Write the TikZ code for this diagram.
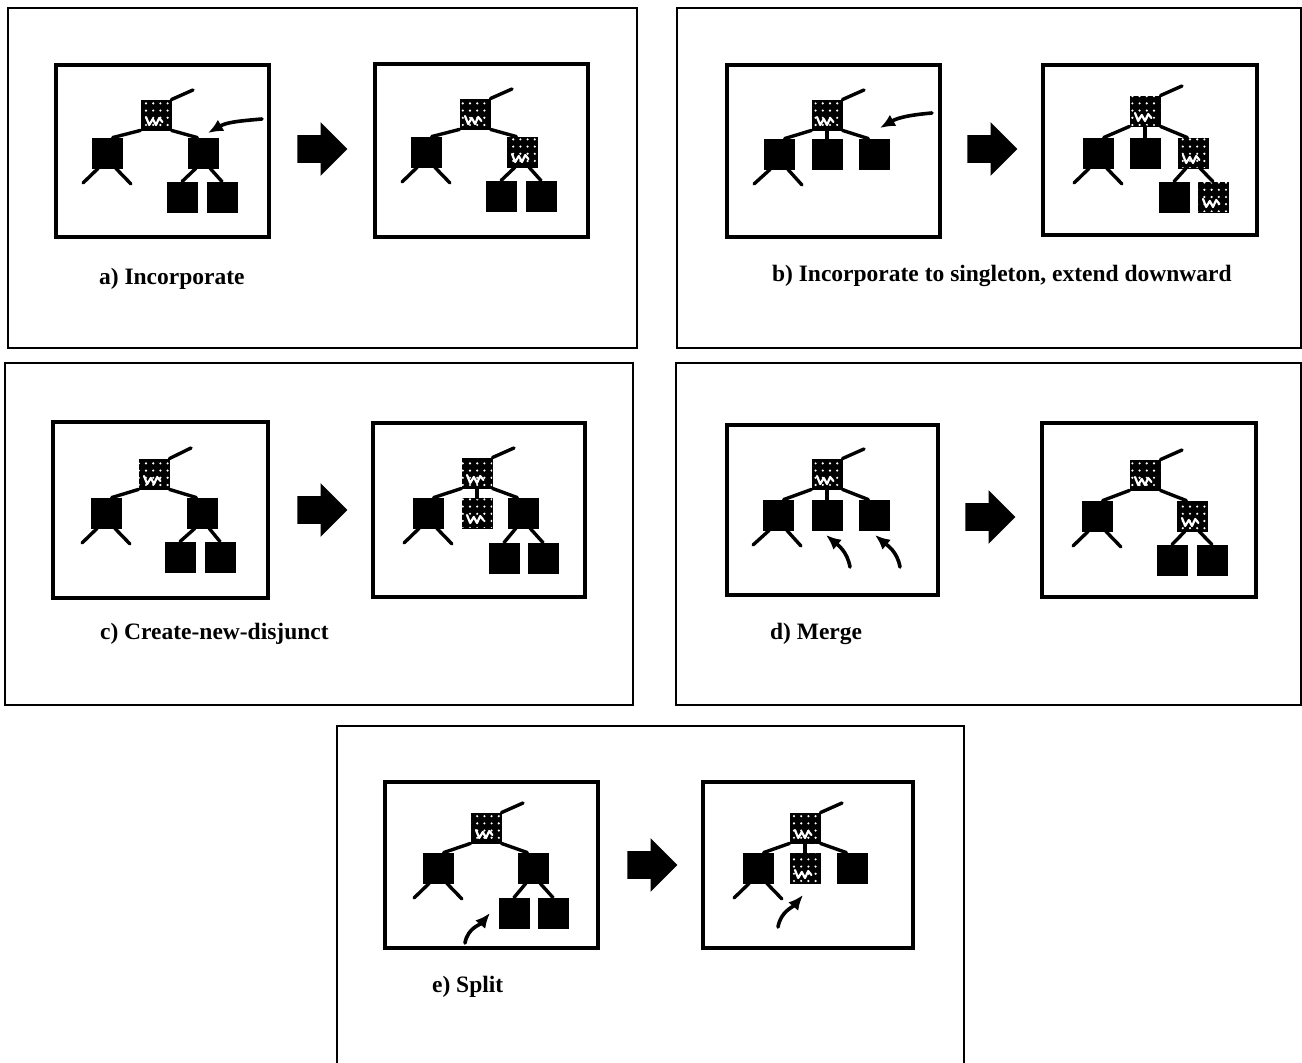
\documentclass[tikz,border=0pt]{standalone}
\usepackage{fontspec}
\setmainfont{Liberation Serif}
\usetikzlibrary{shapes.arrows, patterns.meta, arrows.meta}
\begin{document}
\begin{tikzpicture}[x=0.5pt, y=-0.5pt]

      \tikzset{leaf/.style={draw, fill=black, inner sep=0pt, minimum size=15pt},
               mixed/.style={leaf, postaction={pattern={Dots[distance=3.6pt, radius=0.6pt, xshift=1pt, yshift=1pt]}, pattern color=white},
                 path picture={\draw[white, line width=1.1pt, line join=round, line cap=round]
                   ([shift={(-5pt,-1pt)}]path picture bounding box.center) -- ++(1.6pt,-4pt) -- ++(1.8pt,3pt)
                   -- ++(1.6pt,-3pt) -- ++(1.6pt,3.5pt) -- ++(1.6pt,-2pt);}},
               branch/.style={line width=1.7pt, line cap=round},
               frame/.style={draw, line width=1.8pt},
               panel/.style={draw, line width=1pt},
               pointer/.style={->, >={Latex[length=7.5pt, width=6.5pt]}, line width=1.8pt, line cap=round},
               bigarrow/.style={single arrow, fill=black, inner sep=0pt, inner ysep=6.75pt, minimum height=25pt,
                 single arrow head extend=6.5pt, single arrow head indent=0pt, anchor=tail},
               caption/.style={anchor=base west, font=\bfseries\fontsize{11.75}{14}\selectfont}}
      \useasboundingbox (0,0) rectangle (1302,1063);

%% Panels
      \draw[panel] (8,8) rectangle (637,348);
      \draw[panel] (677,8) rectangle (1301,348);
      \draw[panel] (5,363) rectangle (633,705);
      \draw[panel] (676,363) rectangle (1301,705);
      \draw[panel] (337,726) rectangle (964,1070);

%% a) Incorporate
      \begin{scope}[shift={(56,65)}, name prefix=al-]
        \draw[frame] (0,0) rectangle (213,172);
        \node[mixed] (root) at (100,50) {};
        \node[leaf] (lc) at (51,88) {};
        \node[leaf] (rc) at (147,88) {};
        \node[leaf] (g1) at (126,132) {};
        \node[leaf] (g2) at (166,132) {};
        \coordinate (stem) at (137,25);
        \coordinate (leg1) at (27,118);
        \coordinate (leg2) at (75,119);
        \coordinate (from) at (206,54);
        \coordinate (to) at (152,68);
        \path[branch] (root.north east) edge (stem) (root.south west) edge (lc.70) (root.south east) edge (rc.110)
              (lc.-120) edge (leg1) (lc.-60) edge (leg2) (rc.-115) edge (g1.north) (rc.-65) edge (g2.north);
        \path[pointer] (from) edge[out=185, in=30] (to);
      \end{scope}
      \node[bigarrow] (arrowA) at (297,149) {};
      \begin{scope}[shift={(375,64)}, name prefix=ar-]
        \draw[frame] (0,0) rectangle (213,173);
        \node[mixed] (root) at (100,50) {};
        \node[leaf] (lc) at (51,88) {};
        \node[mixed] (rc) at (147,88) {};
        \node[leaf] (g1) at (126,132) {};
        \node[leaf] (g2) at (166,132) {};
        \coordinate (stem) at (137,25);
        \coordinate (leg1) at (27,118);
        \coordinate (leg2) at (75,119);
        \path[branch] (root.north east) edge (stem) (root.south west) edge (lc.70) (root.south east) edge (rc.110)
              (lc.-120) edge (leg1) (lc.-60) edge (leg2) (rc.-115) edge (g1.north) (rc.-65) edge (g2.north);
      \end{scope}
      \node[caption] (capA) at (92,285) {a) Incorporate};

%% b) Incorporate to singleton
      \begin{scope}[shift={(727,65)}, name prefix=bl-]
        \draw[frame] (0,0) rectangle (213,172);
        \node[mixed] (root) at (100,50) {};
        \node[leaf] (lc) at (52,89) {};
        \node[leaf] (mc) at (100,89) {};
        \node[leaf] (rc) at (147,89) {};
        \coordinate (stem) at (137,25);
        \coordinate (leg1) at (27,119);
        \coordinate (leg2) at (75,120);
        \coordinate (from) at (205,48);
        \coordinate (to) at (153,63);
        \path[branch] (root.north east) edge (stem) (root.south west) edge (lc.70) (root.south east) edge (rc.110)
              (root.south) edge (mc.north) (lc.-120) edge (leg1) (lc.-60) edge (leg2);
        \path[pointer] (from) edge[out=185, in=30] (to);
      \end{scope}
      \node[bigarrow] (arrowB) at (967,149) {};
      \begin{scope}[shift={(1043,65)}, name prefix=br-]
        \draw[frame] (0,0) rectangle (214,170);
        \node[mixed] (root) at (102,46) {};
        \node[leaf] (lc) at (55,88) {};
        \node[leaf] (mc) at (102,88) {};
        \node[mixed] (rc) at (150,88) {};
        \node[leaf] (g1) at (131,132) {};
        \node[mixed] (g2) at (170,132) {};
        \coordinate (stem) at (139,21);
        \coordinate (leg1) at (31,118);
        \coordinate (leg2) at (79,119);
        \path[branch] (root.north east) edge (stem) (root.south west) edge (lc.70) (root.south east) edge (rc.110)
              (root.south) edge (mc.north) (lc.-120) edge (leg1) (lc.-60) edge (leg2)
              (rc.-115) edge (g1.north) (rc.-65) edge (g2.north);
      \end{scope}
      \node[caption] (capB) at (765,282) {b) Incorporate to singleton, extend downward};

%% c) Create-new-disjunct
      \begin{scope}[shift={(53,422)}, name prefix=cl-]
        \draw[frame] (0,0) rectangle (215,176);
        \node[mixed] (root) at (101,52) {};
        \node[leaf] (lc) at (53,91) {};
        \node[leaf] (rc) at (149,91) {};
        \node[leaf] (g1) at (127,135) {};
        \node[leaf] (g2) at (167,135) {};
        \coordinate (stem) at (138,26);
        \coordinate (leg1) at (29,121);
        \coordinate (leg2) at (77,122);
        \path[branch] (root.north east) edge (stem) (root.south west) edge (lc.70) (root.south east) edge (rc.110)
              (lc.-120) edge (leg1) (lc.-60) edge (leg2) (rc.-115) edge (g1.north) (rc.-65) edge (g2.north);
      \end{scope}
      \node[bigarrow] (arrowC) at (297,510) {};
      \begin{scope}[shift={(373,423)}, name prefix=cr-]
        \draw[frame] (0,0) rectangle (212,174);
        \node[mixed] (root) at (104,50) {};
        \node[leaf] (lc) at (55,90) {};
        \node[mixed] (mc) at (104,90) {};
        \node[leaf] (rc) at (150,90) {};
        \node[leaf] (g1) at (131,135) {};
        \node[leaf] (g2) at (170,135) {};
        \coordinate (stem) at (141,25);
        \coordinate (leg1) at (31,120);
        \coordinate (leg2) at (79,121);
        \path[branch] (root.north east) edge (stem) (root.south west) edge (lc.70) (root.south east) edge (rc.110)
              (root.south) edge (mc.north) (lc.-120) edge (leg1) (lc.-60) edge (leg2)
              (rc.-115) edge (g1.north) (rc.-65) edge (g2.north);
      \end{scope}
      \node[caption] (capC) at (93,640) {c) Create-new-disjunct};

%% d) Merge
      \begin{scope}[shift={(727,425)}, name prefix=dl-]
        \draw[frame] (0,0) rectangle (211,170);
        \node[mixed] (root) at (100,49) {};
        \node[leaf] (lc) at (51,90) {};
        \node[leaf] (mc) at (100,90) {};
        \node[leaf] (rc) at (147,90) {};
        \coordinate (stem) at (137,24);
        \coordinate (leg1) at (26,120);
        \coordinate (leg2) at (74,121);
        \coordinate (from1) at (123,142);
        \coordinate (to1) at (99,110);
        \coordinate (from2) at (173,142);
        \coordinate (to2) at (148,110);
        \path[branch] (root.north east) edge (stem) (root.south west) edge (lc.70) (root.south east) edge (rc.110)
              (root.south) edge (mc.north) (lc.-120) edge (leg1) (lc.-60) edge (leg2);
        \path[pointer] (from1) edge[out=100, in=-40] (to1);
        \path[pointer] (from2) edge[out=100, in=-40] (to2);
      \end{scope}
      \node[bigarrow] (arrowD) at (965,517) {};
      \begin{scope}[shift={(1042,423)}, name prefix=dr-]
        \draw[frame] (0,0) rectangle (214,174);
        \node[mixed] (root) at (103,52) {};
        \node[leaf] (lc) at (55,93) {};
        \node[mixed] (rc) at (150,93) {};
        \node[leaf] (g1) at (130,137) {};
        \node[leaf] (g2) at (170,137) {};
        \coordinate (stem) at (140,27);
        \coordinate (leg1) at (31,123);
        \coordinate (leg2) at (79,124);
        \path[branch] (root.north east) edge (stem) (root.south west) edge (lc.70) (root.south east) edge (rc.110)
              (lc.-120) edge (leg1) (lc.-60) edge (leg2) (rc.-115) edge (g1.north) (rc.-65) edge (g2.north);
      \end{scope}
      \node[caption] (capD) at (763,640) {d) Merge};

%% e) Split
      \begin{scope}[shift={(385,782)}, name prefix=el-]
        \draw[frame] (0,0) rectangle (213,166);
        \node[mixed] (root) at (101,46) {};
        \node[leaf] (lc) at (53,86) {};
        \node[leaf] (rc) at (148,86) {};
        \node[leaf] (g1) at (129,131) {};
        \node[leaf] (g2) at (168,131) {};
        \coordinate (stem) at (138,21);
        \coordinate (leg1) at (29,116);
        \coordinate (leg2) at (77,117);
        \coordinate (from) at (80,161);
        \coordinate (to) at (105,131);
        \path[branch] (root.north east) edge (stem) (root.south west) edge (lc.70) (root.south east) edge (rc.110)
              (lc.-120) edge (leg1) (lc.-60) edge (leg2) (rc.-115) edge (g1.north) (rc.-65) edge (g2.north);
        \path[pointer] (from) edge[out=80, in=-130] (to);
      \end{scope}
      \node[bigarrow] (arrowE) at (627,865) {};
      \begin{scope}[shift={(703,782)}, name prefix=er-]
        \draw[frame] (0,0) rectangle (210,166);
        \node[mixed] (root) at (102,46) {};
        \node[leaf] (lc) at (55,86) {};
        \node[mixed] (mc) at (102,86) {};
        \node[leaf] (rc) at (149,86) {};
        \coordinate (stem) at (139,21);
        \coordinate (leg1) at (31,116);
        \coordinate (leg2) at (79,117);
        \coordinate (from) at (75,145);
        \coordinate (to) at (100,113);
        \path[branch] (root.north east) edge (stem) (root.south west) edge (lc.70) (root.south east) edge (rc.110)
              (root.south) edge (mc.north) (lc.-120) edge (leg1) (lc.-60) edge (leg2);
        \path[pointer] (from) edge[out=80, in=-130] (to);
      \end{scope}
      \node[caption] (capE) at (425,992) {e) Split};

\end{tikzpicture}
\end{document}
